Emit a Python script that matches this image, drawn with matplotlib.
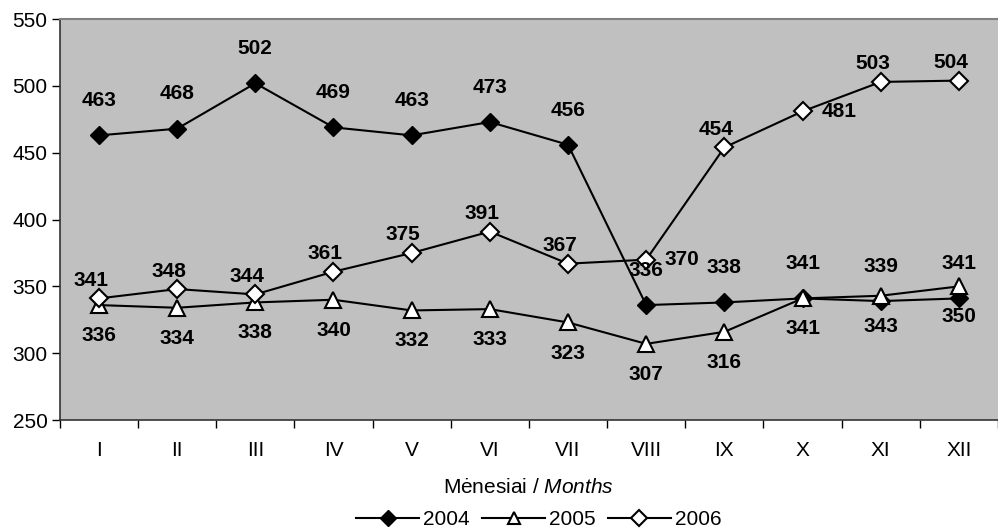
import matplotlib.pyplot as plt

plt.rcParams['font.family'] = ['Liberation Sans', 'DejaVu Sans']
plt.rcParams['mathtext.fontset'] = 'custom'
plt.rcParams['mathtext.rm'] = 'Liberation Sans'
plt.rcParams['mathtext.it'] = 'Liberation Sans:italic'

months = ['I', 'II', 'III', 'IV', 'V', 'VI', 'VII', 'VIII', 'IX', 'X', 'XI', 'XII']
y2004 = [463, 468, 502, 469, 463, 473, 456, 336, 338, 341, 339, 341]
y2005 = [336, 334, 338, 340, 332, 333, 323, 307, 316, 341, 343, 350]
y2006 = [341, 348, 344, 361, 375, 391, 367, 370, 454, 481, 503, 504]

fig = plt.figure(figsize=(9.98, 5.31), dpi=100)
ax = fig.add_axes([0.06, 0.209, 0.94, 0.755])
ax.set_facecolor('#c0c0c0')

x = range(len(months))
ax.plot(x, y2004, color='black', lw=1.5, marker='D', ms=9, mfc='black', mec='black', label='2004', zorder=3)
ax.plot(x, y2005, color='black', lw=1.5, marker='^', ms=11, mfc='white', mec='black', mew=1.5, label='2005', zorder=3)
ax.plot(x, y2006, color='black', lw=1.5, marker='D', ms=9, mfc='white', mec='black', mew=1.5, label='2006', zorder=3)

lab = dict(fontsize=15, fontweight='bold', textcoords='offset points', va='center', ha='center')
for i, v in enumerate(y2004):
    ax.annotate(str(v), (i, v), xytext=(0, 25), **lab)
for i, v in enumerate(y2005):
    ax.annotate(str(v), (i, v), xytext=(0, -22), **lab)
for i, v in enumerate(y2006):
    if months[i] in ('VIII', 'X'):
        ax.annotate(str(v), (i, v), xytext=(26, 0), **lab)
    else:
        ax.annotate(str(v), (i, v), xytext=(-6, 13), **lab)

ax.set_xlim(-0.5, 11.45)
ax.set_ylim(250, 550)
ax.set_yticks(range(250, 551, 50))
ax.set_xticks(x)
ax.set_xticklabels(months)
ax.set_xticks([i - 0.5 for i in range(13)], minor=True)
ax.tick_params(axis='x', which='major', length=0, labelsize=15, pad=15)
ax.tick_params(axis='x', which='minor', length=6, width=1, direction='out')
ax.tick_params(axis='y', labelsize=15, length=6, width=1, direction='out', pad=3)
ax.spines['right'].set_visible(False)
ax.spines['top'].set_color('#808080')
ax.spines['top'].set_linewidth(1.5)
for s in ('left', 'bottom'):
    ax.spines[s].set_color('#333333')
    ax.spines[s].set_linewidth(1.2)

ax.set_xlabel('Mėnesiai / $\\it{Months}$', fontsize=15, labelpad=13)
fig.legend(loc='center', bbox_to_anchor=(0.54, 0.021), ncol=3, frameon=False,
           fontsize=15, handlelength=3, columnspacing=0.6, handletextpad=0.2, borderpad=0,
           markerscale=0.85)

fig.savefig('out.png', dpi=100)
